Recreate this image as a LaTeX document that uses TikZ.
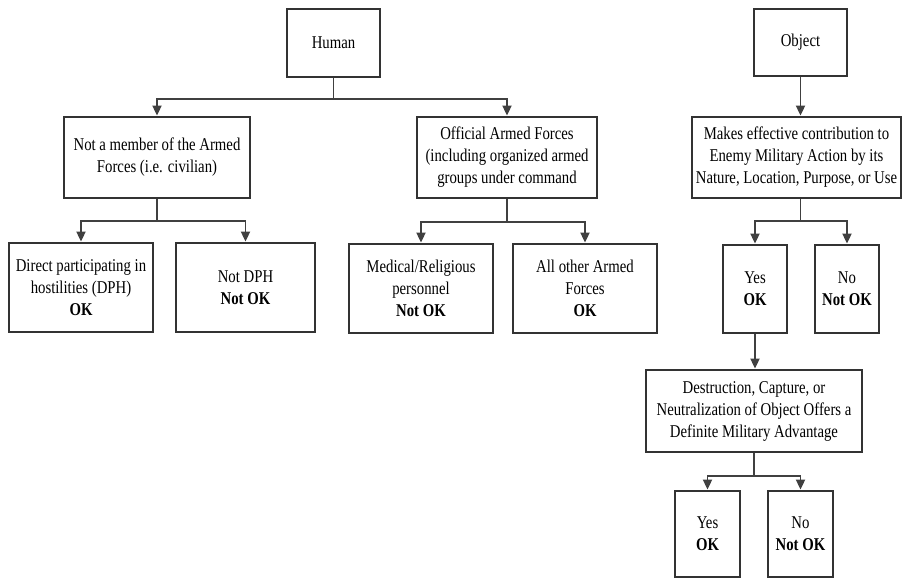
\documentclass[tikz,border=0pt]{standalone}
\usepackage{fontspec}
\setmainfont{Liberation Serif}[FakeStretch=0.82]
\usepackage{tikz}
\usetikzlibrary{arrows.meta}

\tikzset{
  box/.style={draw=black!80, line width=2.8pt, align=center, inner sep=1pt,
    font=\fontsize{18}{22}\selectfont},
  arr/.style={-{Triangle[length=10pt,width=9pt]}, draw=black!75, line width=1.8pt},
  ln/.style={draw=black!75, line width=1.8pt}
}

\begin{document}
\begin{tikzpicture}[x=1pt,y=-1pt]
      \useasboundingbox (0,0) rectangle (903,578);
      % human side
      \node[box, minimum width=93pt, minimum height=68pt] (H) at (333.5,43) {Human};
      \node[box, minimum width=186pt, minimum height=81pt] (N) at (157,157.5) {Not a member of the Armed\\Forces (i.e. civilian)};
      \node[box, minimum width=180pt, minimum height=81pt] (F) at (507,157.5) {Official Armed Forces\\(including organized armed\\groups under command};
      \node[box, minimum width=144pt, minimum height=89pt] (D) at (81,287.5) {Direct participating in\\hostilities (DPH)\\\textbf{OK}};
      \node[box, minimum width=139pt, minimum height=89pt] (ND) at (245.5,287.5) {Not DPH\\\textbf{Not OK}};
      \node[box, minimum width=144pt, minimum height=89pt] (M) at (421,288.5) {Medical/Religious\\personnel\\\textbf{Not OK}};
      \node[box, minimum width=144pt, minimum height=89pt] (A) at (585,288.5) {All other Armed\\Forces\\\textbf{OK}};
      % object side
      \node[box, minimum width=93pt, minimum height=67pt] (O) at (800.5,42.5) {Object};
      \node[box, minimum width=209pt, minimum height=81pt] (C) at (796.5,157.5) {Makes effective contribution to\\Enemy Military Action by its\\Nature, Location, Purpose, or Use};
      \node[box, minimum width=64pt, minimum height=88pt] (Y) at (755,289) {Yes\\\textbf{OK}};
      \node[box, minimum width=64pt, minimum height=88pt] (NO) at (847,289) {No\\\textbf{Not OK}};
      \node[box, minimum width=216pt, minimum height=82pt] (V) at (754,411) {Destruction, Capture, or\\Neutralization of Object Offers a\\Definite Military Advantage};
      \node[box, minimum width=65pt, minimum height=86pt] (Y2) at (707.5,534) {Yes\\\textbf{OK}};
      \node[box, minimum width=65pt, minimum height=86pt] (N2) at (800.5,534) {No\\\textbf{Not OK}};
      % junctions
      \coordinate (hj) at (333.5,99);
      \coordinate (nj) at (157,221);
      \coordinate (fj) at (507,222);
      \coordinate (cj) at (800.5,221);
      \coordinate (vj) at (754,476);
      % connectors
      \draw[ln] (H) -- (hj);
      \draw[arr] (hj) -| (N);
      \draw[arr] (hj) -| (F);
      \draw[ln] (N) -- (nj);
      \draw[arr] (nj) -| (D);
      \draw[arr] (nj) -| (ND);
      \draw[ln] (F) -- (fj);
      \draw[arr] (fj) -| (M);
      \draw[arr] (fj) -| (A);
      \draw[arr] (O) -- (O |- C.north);
      \draw[ln] (O |- C.south) -- (cj);
      \draw[arr] (cj) -| (Y);
      \draw[arr] (cj) -| (NO);
      \draw[arr] (Y) -- (Y |- V.north);
      \draw[ln] (V) -- (vj);
      \draw[arr] (vj) -| (Y2);
      \draw[arr] (vj) -| (N2);
    \end{tikzpicture}
\end{document}
